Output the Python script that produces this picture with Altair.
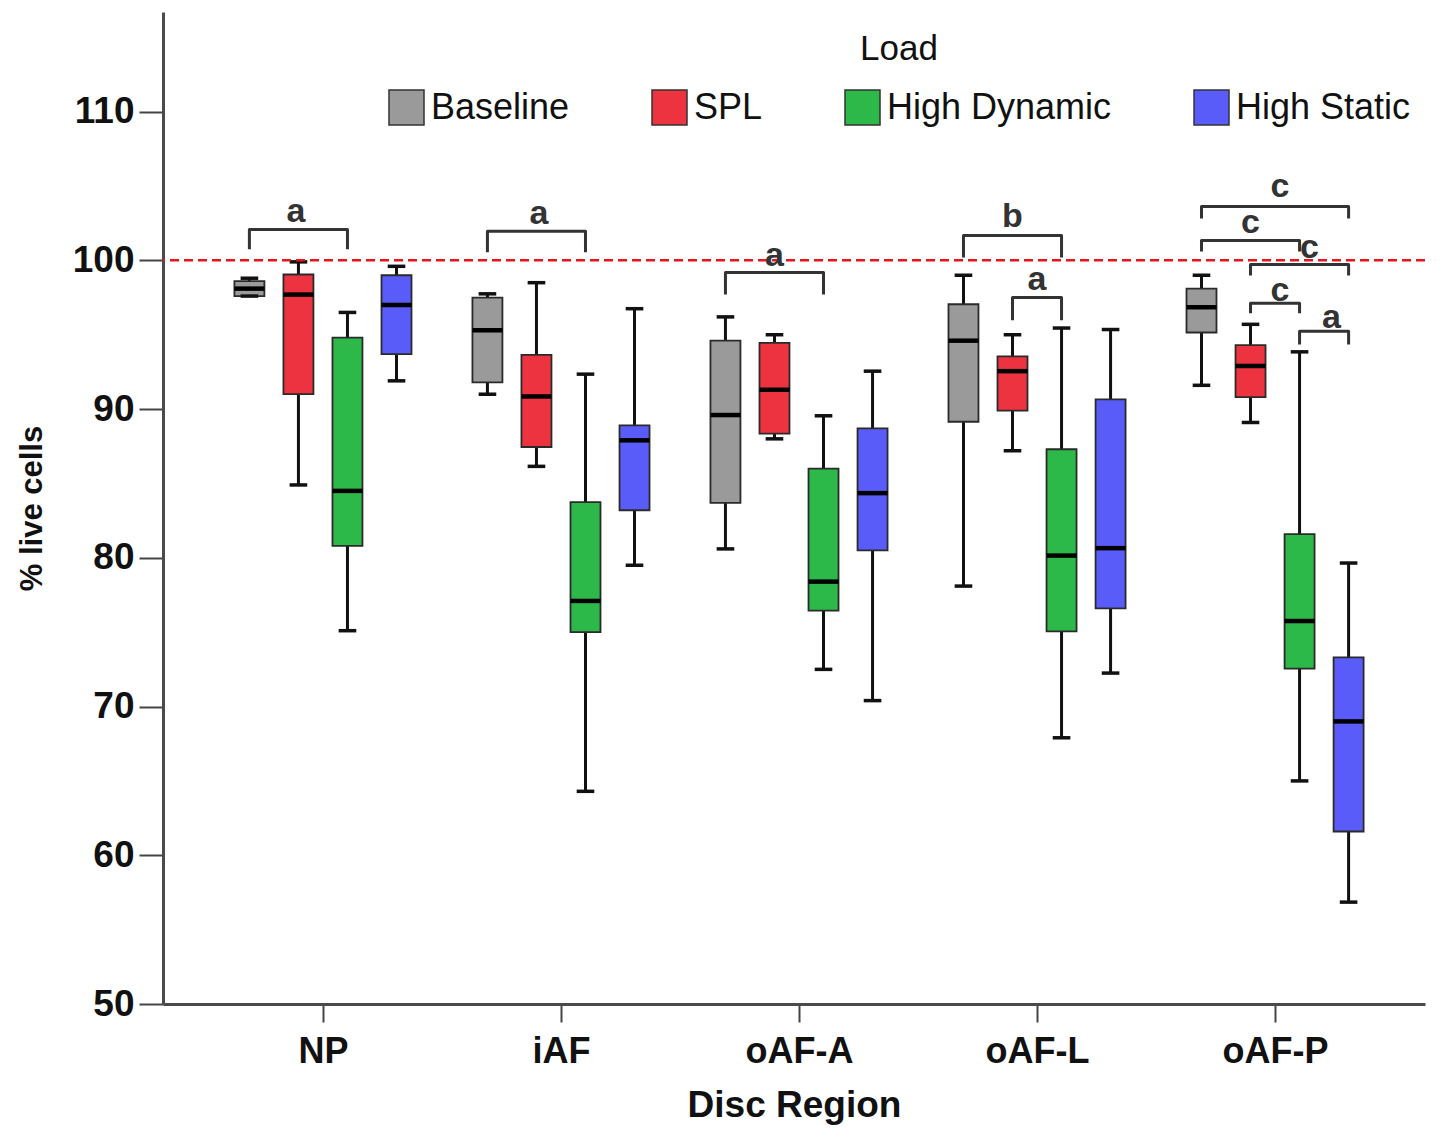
import json
import altair as alt
import pandas as pd

# ---------------- data ----------------
regions = ["NP", "iAF", "oAF-A", "oAF-L", "oAF-P"]
loads = ["Baseline", "SPL", "High Dynamic", "High Static"]
load_colors = ["#9a9a9a", "#ee3340", "#2db84a", "#5a5cfa"]

# per load, values for the 5 regions (whisker low, Q1, median, Q3, whisker high)
baseline_wmin = [97.6, 91.0, 80.6, 78.1, 91.6]
baseline_q1 = [97.6, 91.8, 83.7, 89.15, 95.15]
baseline_med = [98.1, 95.3, 89.6, 94.6, 96.85]
baseline_q3 = [98.6, 97.5, 94.6, 97.05, 98.1]
baseline_wmax = [98.8, 97.75, 96.2, 99.0, 99.0]

spl_wmin = [84.9, 86.15, 88.0, 87.2, 89.1]
spl_q1 = [91.0, 87.45, 88.35, 89.9, 90.8]
spl_med = [97.7, 90.85, 91.3, 92.55, 92.9]
spl_q3 = [99.05, 93.65, 94.45, 93.55, 94.3]
spl_wmax = [99.9, 98.5, 95.0, 95.0, 95.7]

hd_wmin = [75.1, 64.3, 72.5, 67.9, 65.0]
hd_q1 = [80.8, 75.0, 76.45, 75.05, 72.55]
hd_med = [84.5, 77.1, 78.4, 80.15, 75.75]
hd_q3 = [94.8, 83.75, 86.0, 87.3, 81.6]
hd_wmax = [96.5, 92.35, 89.55, 95.45, 93.85]

hs_wmin = [91.9, 79.5, 70.4, 72.25, 56.85]
hs_q1 = [93.7, 83.2, 80.5, 76.6, 61.6]
hs_med = [97.0, 87.9, 84.35, 80.65, 69.0]
hs_q3 = [99.0, 88.9, 88.7, 90.65, 73.3]
hs_wmax = [99.6, 96.75, 92.55, 95.35, 79.65]

# significance brackets: region index, from-load index, to-load index,
# bracket top value, leg-end value, letter, letter value, letter shift (load units)
br_region = [0, 1, 2, 3, 3, 4, 4, 4, 4, 4]
br_from = [0, 0, 0, 0, 1, 0, 0, 1, 1, 2]
br_to = [2, 2, 2, 2, 2, 3, 2, 3, 2, 3]
br_top = [102.08, 101.95, 99.19, 101.68, 97.51, 103.63, 101.34, 99.73, 97.11, 95.23]
br_leg = [100.74, 100.54, 97.71, 100.2, 95.97, 102.82, 100.6, 98.99, 96.44, 94.35]
br_letter = ["a", "a", "a", "b", "a", "c", "c", "c", "c", "a"]
br_text_y = [103.25, 103.15, 100.3, 102.9, 98.65, 104.9, 102.5, 100.85, 97.95, 96.1]
br_text_dx = [-0.05, 0.05, 0, 0, 0, 0.1, 0, 0.2, 0.1, 0.15]

reference_line = [100]

# ---------------- tables ----------------
stats = {
    "Baseline": (baseline_wmin, baseline_q1, baseline_med, baseline_q3, baseline_wmax),
    "SPL": (spl_wmin, spl_q1, spl_med, spl_q3, spl_wmax),
    "High Dynamic": (hd_wmin, hd_q1, hd_med, hd_q3, hd_wmax),
    "High Static": (hs_wmin, hs_q1, hs_med, hs_q3, hs_wmax),
}
rows = []
for li, load in enumerate(loads):
    wmin, q1, med, q3, wmax = stats[load]
    for ri, reg in enumerate(regions):
        rows.append(dict(region=reg, ri=ri, load=load, li=li, wmin=wmin[ri], q1=q1[ri],
                         med=med[ri], q3=q3[ri], wmax=wmax[ri]))
box_df = pd.DataFrame(rows)

pts = []
for b in range(len(br_region)):
    seq = [(br_from[b], br_leg[b]), (br_from[b], br_top[b]), (br_to[b], br_top[b]), (br_to[b], br_leg[b])]
    for k, (li, yv) in enumerate(seq):
        pts.append(dict(bid=b, k=k, ri=br_region[b], li=li, y=yv))
br_df = pd.DataFrame(pts)
txt_df = pd.DataFrame(dict(ri=br_region, lf=br_from, lt=br_to, letter=br_letter, y=br_text_y,
                           dx=br_text_dx))
ref_df = pd.DataFrame(dict(y=reference_line))

# ---------------- layout constants ----------------
GROUP = 0.206   # spacing between loads (in region units)
HALF = 0.063    # half box width
CAP = 0.037     # half cap width
FONT = "Liberation Sans"

xscale = alt.Scale(domain=[-0.672, 4.63], nice=False, zero=False)
yscale = alt.Scale(domain=[50, 116.7], nice=False, zero=False)

label_expr = f"{json.dumps(regions)}[datum.value]"
xaxis = alt.Axis(values=list(range(len(regions))), labelExpr=label_expr, title="Disc Region",
                 grid=False, tickSize=18, tickWidth=2, tickColor="#444", domainColor="#4a4a4a",
                 domainWidth=3, labelFont=FONT, labelFontSize=36, labelFontWeight="bold",
                 labelColor="#111", labelPadding=12, titleFont=FONT, titleFontSize=37,
                 titleFontWeight="bold", titleColor="#111", titlePadding=18)
yaxis = alt.Axis(values=[50, 60, 70, 80, 90, 100, 110], title="% live cells", grid=False,
                 tickSize=24, tickWidth=2, tickColor="#444", domainColor="#4a4a4a", domainWidth=3,
                 labelFont=FONT, labelFontSize=37, labelFontWeight="bold", labelColor="#111",
                 labelPadding=5, titleFont=FONT, titleFontSize=31, titleFontWeight="bold",
                 titleColor="#111", titlePadding=24)


def X(field):
    return alt.X(field, scale=xscale, axis=xaxis, title="Disc Region")


def Y(field):
    return alt.Y(field, scale=yscale, axis=yaxis, title="% live cells")


pos_expr = f"datum.ri + (datum.li - 1.5) * {GROUP}"
base = alt.Chart(box_df).transform_calculate(
    pos=pos_expr,
    left=f"{pos_expr} - {HALF}",
    right=f"{pos_expr} + {HALF}",
    cl=f"{pos_expr} - {CAP}",
    cr=f"{pos_expr} + {CAP}",
)

whisk_lo = base.mark_rule(color="#111", strokeWidth=3).encode(
    x=X("pos:Q"), y=Y("wmin:Q"), y2="q1:Q",
)
whisk_hi = base.mark_rule(color="#111", strokeWidth=3).encode(
    x=X("pos:Q"), y=Y("q3:Q"), y2="wmax:Q",
)
boxes = base.mark_bar(stroke="#2a2a2a", strokeWidth=1.8, opacity=1).encode(
    x=X("left:Q"),
    x2="right:Q",
    y=Y("q1:Q"),
    y2="q3:Q",
    color=alt.Color("load:N", scale=alt.Scale(domain=loads, range=load_colors),
                    legend=alt.Legend(title="Load", orient="none", legendX=225, legendY=20,
                                      direction="horizontal", titleAnchor="middle",
                                      titleFont=FONT, titleFontSize=35, titleFontWeight="normal",
                                      titleColor="#111", titlePadding=22,
                                      labelFont=FONT, labelFontSize=36, labelColor="#111",
                                      labelOffset=6, symbolType="square", symbolSize=1225,
                                      symbolStrokeColor="#333", symbolStrokeWidth=1.5,
                                      symbolOpacity=1, columnPadding=79, labelLimit=400)),
)
medians = base.mark_rule(color="#000", strokeWidth=4.5).encode(
    x=X("left:Q"), x2="right:Q", y=Y("med:Q"),
)
cap_lo = base.mark_rule(color="#111", strokeWidth=3.5).encode(
    x=X("cl:Q"), x2="cr:Q", y=Y("wmin:Q"),
)
cap_hi = base.mark_rule(color="#111", strokeWidth=3.5).encode(
    x=X("cl:Q"), x2="cr:Q", y=Y("wmax:Q"),
)

ref = alt.Chart(ref_df).mark_rule(color="#e8141e", strokeDash=[9, 5], strokeWidth=2.5).encode(
    y=Y("y:Q"),
)

brackets = alt.Chart(br_df).transform_calculate(pos=pos_expr).mark_line(
    color="#333", strokeWidth=3, strokeJoin="round", interpolate="linear"
).encode(
    x=X("pos:Q"),
    y=Y("y:Q"),
    detail="bid:N",
    order="k:Q",
)

letters = alt.Chart(txt_df).transform_calculate(
    pos=f"datum.ri + ((datum.lf + datum.lt) / 2 + datum.dx - 1.5) * {GROUP}"
).mark_text(font=FONT, fontSize=34, fontWeight="bold", color="#333", baseline="middle").encode(
    x=X("pos:Q"),
    y=Y("y:Q"),
    text="letter:N",
)

chart = alt.layer(
    whisk_lo, whisk_hi, boxes, medians, cap_lo, cap_hi, ref, brackets, letters
).properties(
    width=1262,
    height=992,
    autosize=alt.AutoSizeParams(type="none"),
    padding={"left": 155, "top": 4, "right": 10, "bottom": 125},
    background="white",
).configure_view(stroke=None)

chart.save("out.html", embed_options={"renderer": "svg", "actions": False})
